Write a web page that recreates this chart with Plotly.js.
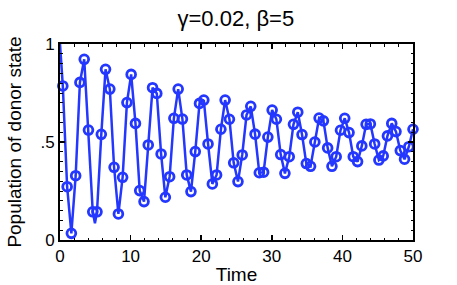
<!DOCTYPE html>
<html>
<head>
<meta charset="utf-8">
<script src="https://cdn.plot.ly/plotly-3.0.1.min.js"></script>
<style>html,body{margin:0;padding:0;background:#fff;}#chart{width:457px;height:285px;}</style>
</head>
<body>
<div id="chart"></div>
<script>
const time = [0.40,1.01,1.61,2.22,2.82,3.43,4.03,4.64,5.24,5.85,6.45,7.06,7.66,8.27,8.87,9.48,10.08,10.69,11.29,11.90,12.50,13.11,13.71,14.32,14.92,15.53,16.13,16.74,17.34,17.95,18.55,19.16,19.76,20.37,20.97,21.58,22.18,22.79,23.39,24.00,24.60,25.21,25.81,26.42,27.02,27.63,28.23,28.84,29.44,30.05,30.65,31.26,31.86,32.47,33.07,33.68,34.28,34.89,35.49,36.10,36.70,37.31,37.91,38.52,39.12,39.73,40.33,40.94,41.54,42.15,42.75,43.36,43.96,44.57,45.17,45.78,46.38,46.99,47.59,48.20,48.80,49.41,50.00];
const population = [0.786,0.272,0.034,0.328,0.804,0.922,0.561,0.144,0.144,0.539,0.871,0.770,0.371,0.133,0.320,0.701,0.845,0.595,0.252,0.196,0.485,0.777,0.748,0.439,0.218,0.323,0.621,0.770,0.617,0.332,0.247,0.451,0.697,0.714,0.490,0.286,0.332,0.565,0.714,0.616,0.394,0.298,0.434,0.638,0.682,0.540,0.343,0.346,0.525,0.663,0.616,0.436,0.340,0.425,0.590,0.652,0.538,0.390,0.376,0.500,0.622,0.608,0.470,0.376,0.425,0.560,0.621,0.548,0.425,0.400,0.480,0.590,0.592,0.490,0.408,0.429,0.531,0.595,0.553,0.456,0.412,0.476,0.565];
const startTime = [0];
const startPopulation = [1];
const dipTime = [4.95];
const dipPopulation = [0.085];
const xTickVals = [0,10,20,30,40,50];
const yTickVals = [0,0.5,1];
const yTickText = ['0','.5','1'];

const blue = 'rgb(35,55,255)';
const lineX = startTime.concat(time.slice(0,8), dipTime, time.slice(8));
const lineY = startPopulation.concat(population.slice(0,8), dipPopulation, population.slice(8));

const font = {family:'Liberation Sans, Arial, sans-serif', color:'#000'};

const data = [
  {x: lineX, y: lineY, type:'scatter', mode:'lines', line:{color:blue, width:2.5}, hoverinfo:'skip', cliponaxis:false},
  {x: time, y: population, type:'scatter', mode:'markers', cliponaxis:false,
   marker:{symbol:'circle-open', size:8.8, color:blue, line:{width:2.8, color:blue}}}
];

const layout = {
  width:457, height:285,
  margin:{l:60, r:44, t:44, b:45},
  paper_bgcolor:'#fff', plot_bgcolor:'#fff',
  showlegend:false,
  font: Object.assign({size:17}, font),
  title:{text:'γ=0.02, β=5', font:Object.assign({size:22}, font), x:0.516, xanchor:'center', y:0.935, yref:'container', yanchor:'middle'},
  xaxis:{range:[0,50], tickvals:xTickVals, ticks:'inside', ticklen:5, tickwidth:1.5, tickcolor:'#000',
    showline:true, linecolor:'#000', linewidth:2, mirror:'ticks', showgrid:false, zeroline:false,
    minor:{dtick:2, ticks:'inside', ticklen:2.5, tickwidth:1, tickcolor:'#000', showgrid:false},
    tickfont:Object.assign({size:17}, font),
    title:{text:'Time', font:Object.assign({size:19}, font), standoff:2}},
  yaxis:{range:[0,1], tickvals:yTickVals, ticktext:yTickText, ticks:'inside', ticklen:5, tickwidth:1.5, tickcolor:'#000',
    showline:true, linecolor:'#000', linewidth:2, mirror:'ticks', showgrid:false, zeroline:false,
    minor:{dtick:0.05, ticks:'inside', ticklen:2.5, tickwidth:1, tickcolor:'#000', showgrid:false},
    tickfont:Object.assign({size:17}, font),
    title:{text:'Population of donor state', font:Object.assign({size:19}, font), standoff:14}}
};

Plotly.newPlot('chart', data, layout, {staticPlot:true, displayModeBar:false});
</script>
</body>
</html>
